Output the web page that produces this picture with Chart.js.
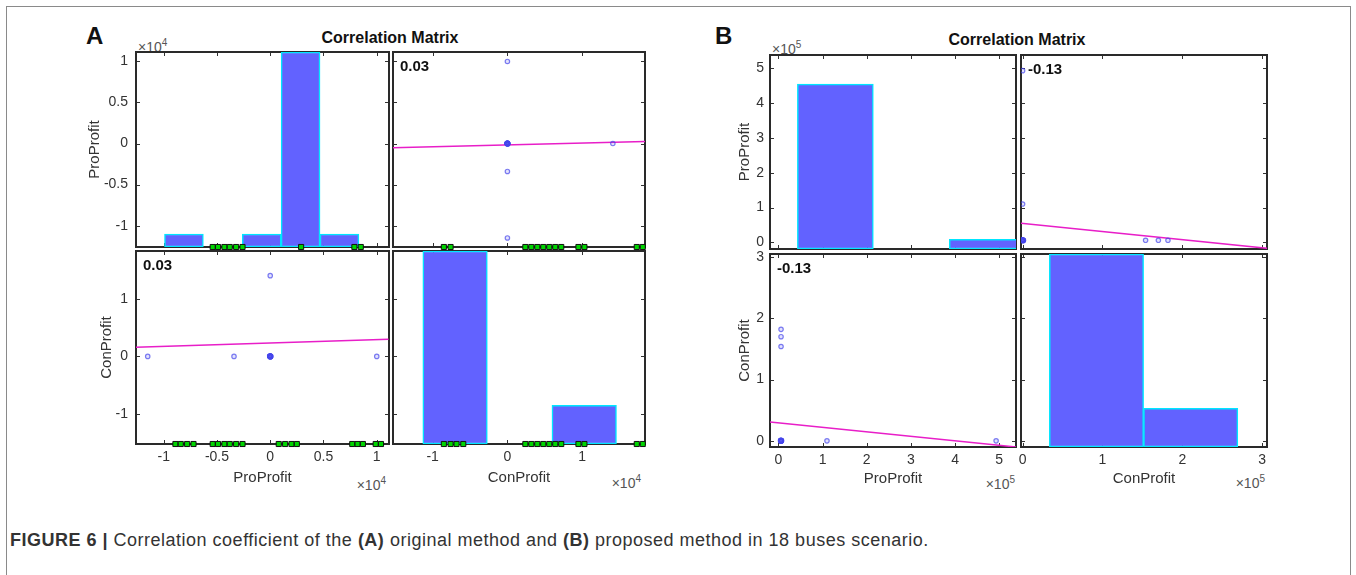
<!DOCTYPE html>
<html>
<head>
<meta charset="utf-8">
<script src="https://cdn.jsdelivr.net/npm/chart.js@4.4.0/dist/chart.umd.min.js"></script>
<style>
  body { margin: 0; width: 1356px; height: 575px; overflow: hidden; position: relative; background: #fff;
         font-family: "Liberation Sans", Arial, Helvetica, sans-serif; color: #222; }
  .cell { position: absolute; }
  .t { position: absolute; white-space: nowrap; }
  .letter { font-size: 24px; line-height: 24px; font-weight: bold; color: #111; }
  .title { font-size: 16px; line-height: 16px; font-weight: bold; color: #111; width: 400px; text-align: center; }
  .exp { font-size: 14px; line-height: 14px; color: #555; }
  .exp sup { font-size: 10px; }
  .rexp { text-align: right; width: 60px; }
  .frame { position: absolute; left: 6px; top: 6px; width: 1343px; height: 620px; border: 1px solid #8a8a8a; }
  .cap { font-size: 18px; line-height: 18px; letter-spacing: 0.5px; color: #333; }
</style>
</head>
<body>
<div class="frame"></div>

<div class="t letter" style="left:86px; top:24px;">A</div>
<div class="t letter" style="left:715px; top:24px;">B</div>
<div class="t title" style="left:190px; top:30px;">Correlation Matrix</div>
<div class="t title" style="left:817px; top:32px;">Correlation Matrix</div>

<div class="t exp" style="left:138px; top:36px;">×10<sup>4</sup></div>
<div class="t exp rexp" style="left:326px; top:474px;">×10<sup>4</sup></div>
<div class="t exp rexp" style="left:581px; top:472px;">×10<sup>4</sup></div>
<div class="t exp" style="left:772px; top:38px;">×10<sup>5</sup></div>
<div class="t exp rexp" style="left:955px; top:473px;">×10<sup>5</sup></div>
<div class="t exp rexp" style="left:1205px; top:472px;">×10<sup>5</sup></div>

<div class="t cap" style="left:10px; top:531px;"><b>FIGURE 6 |</b> Correlation coefficient of the <b>(A)</b> original method and <b>(B)</b> proposed method in 18 buses scenario.</div>

<script>
// ---- panel A (values x10^4) ----
const proA = [-1.15, -0.34, 1.0, 0.0, 0.005, -0.005, 0.0, 0.004, 0.0, -0.004, 0.0, 0.003, 0.0, -0.003, 0.0, 0.002, 0.0, 0.0];
const conA = [0.0, 0.0, 0.0, 0.0, 0.0, 0.005, -0.005, 0.0, 0.004, 0.0, -0.004, 0.0, 0.003, 0.0, -0.003, 0.0, 0.002, 1.41];
const histProA_bins = [-0.81, -0.445, -0.08, 0.285, 0.65];
const histProA_counts = [1, 0, 1, 15, 1];
const histConA_bins = [-0.70, 0.163, 1.027];
const histConA_counts = [15, 0, 3];
const fitConOnProA_x = [-1.26, 1.11];
const fitConOnProA_y = [0.16, 0.30];
const fitProOnConA_x = [-1.53, 1.84];
const fitProOnConA_y = [-0.05, 0.025];
const rugA_TL = [-0.54, -0.49, -0.43, -0.38, -0.32, -0.26, 0.29, 0.79, 0.85];
const rugA_TR = [-0.85, -0.76, 0.24, 0.32, 0.40, 0.48, 0.56, 0.64, 0.72, 0.95, 1.03, 1.73, 1.81];
const rugA_BL = [-0.89, -0.84, -0.78, -0.72, -0.54, -0.49, -0.43, -0.38, -0.32, -0.26, 0.08, 0.14, 0.20, 0.25, 0.77, 0.82, 0.87, 0.99, 1.04];
const rugA_BR = [-0.85, -0.76, -0.68, -0.59, 0.24, 0.32, 0.40, 0.48, 0.56, 0.64, 0.72, 0.95, 1.03, 1.73, 1.81];
const corrA = "0.03";

// ---- panel B (values x10^5) ----
const proB = [4.93, 1.1, 0.06, 0.06, 0.06, 0.06, 0.065, 0.055, 0.06, 0.07, 0.05, 0.06, 0.065, 0.055, 0.06, 0.06, 0.07, 0.05];
const conB = [0.0, 0.0, 1.82, 1.70, 1.54, 0.0, 0.005, -0.005, 0.01, 0.0, 0.0, 0.005, 0.0, 0.01, -0.005, 0.0, 0.0, 0.005];
const histProB_bins = [1.29, 3.01, 4.73];
const histProB_counts = [17, 0, 1];
const histConB_bins = [0.925, 2.105];
const histConB_counts = [15, 3];
const fitConOnProB_x = [-0.19, 5.38];
const fitConOnProB_y = [0.31, -0.10];
const fitProOnConB_x = [-0.02, 3.06];
const fitProOnConB_y = [0.55, -0.17];
const corrB = "-0.13";

const FAM = "'Liberation Sans', Arial, Helvetica, sans-serif";
const PAD = 6;
Chart.defaults.font.family = FAM;
Chart.defaults.color = '#333';

// box with inward ticks on all four sides, plus the corr value
const frame = {
    id: 'frame',
    beforeDatasetsDraw(chart, args, opts) {
        const ctx = chart.ctx, a = chart.chartArea;
        const xs = chart.scales.x, ys = chart.scales.y;
        ctx.save();
        ctx.strokeStyle = '#333';
        ctx.lineWidth = 1;
        ctx.beginPath();
        xs.ticks.forEach(t => {
            const px = Math.round(xs.getPixelForValue(t.value)) + 0.5;
            ctx.moveTo(px, a.bottom); ctx.lineTo(px, a.bottom - 4);
            ctx.moveTo(px, a.top); ctx.lineTo(px, a.top + 4);
        });
        ys.ticks.forEach(t => {
            const py = Math.round(ys.getPixelForValue(t.value)) + 0.5;
            ctx.moveTo(a.left, py); ctx.lineTo(a.left + 4, py);
            ctx.moveTo(a.right, py); ctx.lineTo(a.right - 4, py);
        });
        ctx.stroke();
        ctx.lineWidth = 2;
        ctx.strokeStyle = '#2a2a2a';
        ctx.strokeRect(a.left, a.top, a.width, a.height);
        ctx.restore();
    },
    afterDatasetsDraw(chart, args, opts) {
        if (!opts.label) return;
        const ctx = chart.ctx, a = chart.chartArea;
        ctx.save();
        ctx.font = 'bold 15px ' + FAM;
        ctx.fillStyle = '#111';
        ctx.textBaseline = 'middle';
        ctx.fillText(opts.label, a.left + 7, a.top + 15);
        ctx.restore();
    }
};

function histSet(bins, counts) {
    return {
        type: 'bar', order: 3, xAxisID: 'xh', yAxisID: 'yh', grouped: false,
        data: bins.map((x, i) => ({x: x, y: counts[i]})),
        backgroundColor: '#6262ff', borderColor: '#00e6ff', borderWidth: 1.5,
        borderSkipped: false, categoryPercentage: 1, barPercentage: 1
    };
}

function pointSet(xs, ys) {
    return {
        type: 'scatter', order: 1,
        data: xs.map((x, i) => ({x: x, y: ys[i]})),
        pointRadius: 2.2, pointBorderWidth: 1.2,
        pointBorderColor: 'rgba(70,70,235,0.7)', pointBackgroundColor: 'rgba(70,70,235,0.15)'
    };
}

function fitSet(xs, ys) {
    return {
        type: 'line', order: 2,
        data: xs.map((x, i) => ({x: x, y: ys[i]})),
        borderColor: '#e81ec8', borderWidth: 1.5, pointRadius: 0, fill: false
    };
}

function rugSet(xs, yAt) {
    return {
        type: 'scatter', order: 0, clip: false,
        data: xs.map(x => ({x: x, y: yAt})),
        pointStyle: 'rect', pointRadius: 3.6, pointBorderWidth: 1,
        pointBackgroundColor: '#00d400', pointBorderColor: '#111'
    };
}

function numLabel(v) {
    const s = String(+v.toFixed(3));
    return s === '-0' ? '0' : s;
}

function makeCell(c) {
    const w = c.box[2] - c.box[0], h = c.box[3] - c.box[1];
    const wy = c.yTitle ? c.wy : 0;
    const hx = c.xTitle ? c.hx : 0;
    const cv = document.createElement('canvas');
    cv.className = 'cell';
    cv.width = w + wy + 2 * PAD;
    cv.height = h + hx + 2 * PAD;
    cv.style.left = (c.box[0] - wy - PAD) + 'px';
    cv.style.top = (c.box[1] - PAD) + 'px';
    document.body.appendChild(cv);

    new Chart(cv, {
        type: 'scatter',
        data: {datasets: c.datasets},
        options: {
            responsive: false,
            animation: false,
            layout: {padding: PAD},
            plugins: {legend: {display: false}, tooltip: {enabled: false}, frame: {label: c.corr}},
            scales: {
                x: {
                    type: 'linear', position: 'bottom', min: c.xr[0], max: c.xr[1], offset: false,
                    grid: {display: false, drawTicks: false}, border: {display: false},
                    ticks: {display: !!c.xTitle, stepSize: c.xs, includeBounds: false, padding: 5, maxRotation: 0,
                            font: {size: 14}, color: '#333', callback: numLabel},
                    title: {display: !!c.xTitle, text: c.xTitle, font: {size: 15}, color: '#333', padding: 0},
                    afterFit: s => { s.height = hx; s.paddingLeft = 0; s.paddingRight = 0; }
                },
                y: {
                    type: 'linear', position: 'left', min: c.yr[0], max: c.yr[1], offset: false,
                    grid: {display: false, drawTicks: false}, border: {display: false},
                    ticks: {display: !!c.yTitle, stepSize: c.ys, includeBounds: false, padding: c.ypad || 7,
                            font: {size: 14}, color: '#333', callback: numLabel},
                    title: {display: !!c.yTitle, text: c.yTitle, font: {size: 15}, color: '#333', padding: 0},
                    afterFit: s => { s.width = wy; s.paddingTop = 0; s.paddingBottom = 0; }
                },
                xh: {type: 'linear', display: false, min: c.xr[0], max: c.xr[1], afterBuildTicks: s => { s.ticks = []; }},
                yh: {type: 'linear', display: false, min: 0, max: c.hmax || 1}
            }
        },
        plugins: [frame]
    });
}

const proRangeA = [-1.26, 1.115], conRangeA = [-1.53, 1.84];
const proRangeB = [-0.19, 5.38], conRangeBx = [-0.02, 3.06], conRangeBy = [-0.1, 3.05];

// panel A
makeCell({box: [136, 52, 389, 247], xr: proRangeA, yr: proRangeA, xs: 0.5, ys: 0.5,
          yTitle: 'ProProfit', wy: 50, ypad: 8, hmax: 15,
          datasets: [rugSet(rugA_TL, proRangeA[0]), histSet(histProA_bins, histProA_counts)]});
makeCell({box: [393, 52, 645, 247], xr: conRangeA, yr: proRangeA, xs: 1, ys: 0.5, corr: corrA,
          datasets: [rugSet(rugA_TR, proRangeA[0]), pointSet(conA, proA), fitSet(fitProOnConA_x, fitProOnConA_y)]});
makeCell({box: [136, 251, 389, 444], xr: proRangeA, yr: conRangeA, xs: 0.5, ys: 1, corr: corrA,
          yTitle: 'ConProfit', wy: 38, ypad: 8, xTitle: 'ProProfit', hx: 43,
          datasets: [rugSet(rugA_BL, conRangeA[0]), pointSet(proA, conA), fitSet(fitConOnProA_x, fitConOnProA_y)]});
makeCell({box: [393, 251, 645, 444], xr: conRangeA, yr: conRangeA, xs: 1, ys: 1, hmax: 15,
          xTitle: 'ConProfit', hx: 43,
          datasets: [rugSet(rugA_BR, conRangeA[0]), histSet(histConA_bins, histConA_counts)]});

// panel B
makeCell({box: [770, 55, 1016, 249], xr: proRangeB, yr: proRangeB, xs: 1, ys: 1,
          yTitle: 'ProProfit', wy: 34, ypad: 6, hmax: 20,
          datasets: [histSet(histProB_bins, histProB_counts)]});
makeCell({box: [1021, 55, 1267, 249], xr: conRangeBx, yr: proRangeB, xs: 1, ys: 1, corr: corrB,
          datasets: [pointSet(conB, proB), fitSet(fitProOnConB_x, fitProOnConB_y)]});
makeCell({box: [770, 254, 1016, 447], xr: proRangeB, yr: conRangeBy, xs: 1, ys: 1, corr: corrB,
          yTitle: 'ConProfit', wy: 34, ypad: 6, xTitle: 'ProProfit', hx: 41,
          datasets: [pointSet(proB, conB), fitSet(fitConOnProB_x, fitConOnProB_y)]});
makeCell({box: [1021, 254, 1267, 447], xr: conRangeBx, yr: conRangeBy, xs: 1, ys: 1, hmax: 15,
          xTitle: 'ConProfit', hx: 41,
          datasets: [histSet(histConB_bins, histConB_counts)]});
</script>
</body>
</html>
